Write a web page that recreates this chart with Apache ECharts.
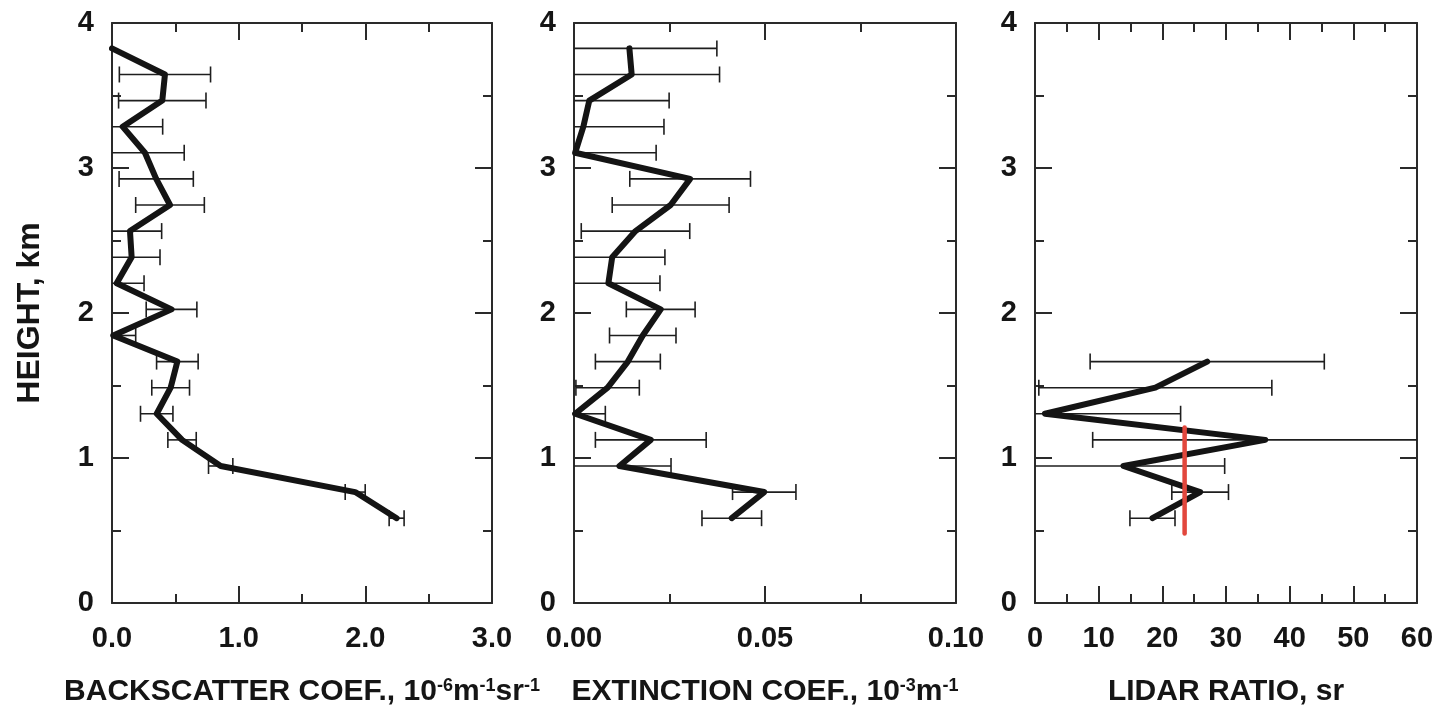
<!DOCTYPE html>
<html>
<head>
<meta charset="utf-8">
<script src="https://cdn.jsdelivr.net/npm/echarts@6/dist/echarts.min.js"></script>
<style>
html,body{margin:0;padding:0;background:#fff;}
#chart{width:1438px;height:714px;}
</style>
</head>
<body>
<div id="chart"></div>
<script>
// ---- Data (heights in km, top to bottom) ----
var heights = [3.825, 3.645, 3.465, 3.285, 3.105, 2.925, 2.745, 2.565, 2.385, 2.205,
               2.025, 1.845, 1.665, 1.485, 1.305, 1.125, 0.945, 0.765, 0.585];

// Backscatter coefficient, 10^-6 m^-1 sr^-1
var backscatter = [0, 0.418, 0.397, 0.084, 0.26, 0.349, 0.458, 0.142, 0.155, 0.037,
                   0.47, 0.01, 0.516, 0.463, 0.353, 0.553, 0.858, 1.92, 2.247];
var backscatterErr = [null, 0.36, 0.345, 0.316, 0.31, 0.293, 0.271, 0.25, 0.224, 0.216,
                      0.2, 0.177, 0.164, 0.149, 0.128, 0.112, 0.096, 0.079, 0.059];

// Extinction coefficient, 10^-3 m^-1
var extinction = [0.0145, 0.0151, 0.004, 0.00245, 0.0003, 0.0304, 0.0253, 0.0161, 0.010, 0.009,
                  0.0227, 0.018, 0.0141, 0.0088, 0.0003, 0.0201, 0.0119, 0.0498, 0.0413];
var extinctionErr = [0.0229, 0.023, 0.0209, 0.0211, 0.0212, 0.0158, 0.0153, 0.0142, 0.0138, 0.0135,
                     0.009, 0.0087, 0.0085, 0.0083, 0.0079, 0.0145, 0.0135, 0.0083, 0.0078];

// Lidar ratio, sr
var lidarHeights = [1.665, 1.485, 1.305, 1.125, 0.945, 0.765, 0.585];
var lidarRatio = [27.05, 18.9, 1.57, 36.16, 13.89, 25.94, 18.45];
var lidarRatioErr = [18.39, 18.3, 21.3, 27.1, 15.9, 4.45, 3.54];

// Mean lidar ratio (red line)
var meanRatio = [23.5, 23.5];
var meanRatioHeights = [0.48, 1.21];

// Axis ranges / ticks
var yRange = [0, 4];
var xRanges = [[0, 3, 1], [0, 0.1, 0.05], [0, 60, 10]];
var xLabelDigits = [1, 2, 0];

var FONT = '"Liberation Sans", Arial, Helvetica, sans-serif';
var INK = '#151515';

var chart = echarts.init(document.getElementById('chart'));

var grids = [
  {left: 112, top: 23, width: 380, height: 580},
  {left: 574, top: 23, width: 382, height: 580},
  {left: 1035, top: 23, width: 382, height: 580}
];

var names = [
  'BACKSCATTER COEF., 10{sup|-6}m{sup|-1}sr{sup|-1}',
  'EXTINCTION COEF., 10{sup|-3}m{sup|-1}',
  'LIDAR RATIO, sr'
];

var xAxes = [], yAxes = [];
for (var i = 0; i < 3; i++) {
  var r = xRanges[i];
  (function (digits) {
    xAxes.push({
      type: 'value', gridIndex: i, position: 'bottom',
      min: r[0], max: r[1], interval: r[2],
      axisLine: {show: true, onZero: false, lineStyle: {color: '#2a2a2a', width: 2}},
      axisTick: {show: true, inside: true, length: 17, lineStyle: {color: '#2a2a2a', width: 2}},
      minorTick: {show: true, splitNumber: 2, length: 9, lineStyle: {color: '#2a2a2a', width: 2}},
      splitLine: {show: false},
      axisLabel: {show: true, margin: 21, color: INK, fontFamily: FONT, fontWeight: 'bold', fontSize: 29,
        formatter: function (v) { return v.toFixed(digits); }},
      name: names[i], nameLocation: 'middle', nameGap: 74,
      nameTextStyle: {color: INK, fontFamily: FONT, fontWeight: 'bold', fontSize: 30,
        rich: {sup: {fontFamily: FONT, fontWeight: 'bold', fontSize: 18, color: INK, verticalAlign: 'top', padding: [0, 0, 12, 0]}}}
    });
  })(xLabelDigits[i]);
  xAxes.push({
    type: 'value', gridIndex: i, position: 'top',
    min: r[0], max: r[1], interval: r[2],
    axisLine: {show: true, onZero: false, lineStyle: {color: '#2a2a2a', width: 2}},
    axisTick: {show: true, inside: true, length: 17, lineStyle: {color: '#2a2a2a', width: 2}},
    minorTick: {show: true, splitNumber: 2, length: 9, lineStyle: {color: '#2a2a2a', width: 2}},
    splitLine: {show: false},
    axisLabel: {show: false}
  });
  yAxes.push({
    type: 'value', gridIndex: i, position: 'left',
    min: yRange[0], max: yRange[1], interval: 1,
    axisLine: {show: true, onZero: false, lineStyle: {color: '#2a2a2a', width: 2}},
    axisTick: {show: true, inside: true, length: 17, lineStyle: {color: '#2a2a2a', width: 2}},
    minorTick: {show: true, splitNumber: 2, length: 9, lineStyle: {color: '#2a2a2a', width: 2}},
    splitLine: {show: false},
    axisLabel: {show: true, margin: 18, color: INK, fontFamily: FONT, fontWeight: 'bold', fontSize: 29},
    name: i === 0 ? 'HEIGHT, km' : '', nameLocation: 'middle', nameGap: 66,
    nameTextStyle: {color: INK, fontFamily: FONT, fontWeight: 'bold', fontSize: 32}
  });
  yAxes.push({
    type: 'value', gridIndex: i, position: 'right',
    min: yRange[0], max: yRange[1], interval: 1,
    axisLine: {show: true, onZero: false, lineStyle: {color: '#2a2a2a', width: 2}},
    axisTick: {show: true, inside: true, length: 17, lineStyle: {color: '#2a2a2a', width: 2}},
    minorTick: {show: true, splitNumber: 2, length: 9, lineStyle: {color: '#2a2a2a', width: 2}},
    splitLine: {show: false},
    axisLabel: {show: false}
  });
}

function zip(vals, hs) {
  var out = [];
  for (var k = 0; k < vals.length; k++) out.push([vals[k], hs[k]]);
  return out;
}
function zipErr(vals, hs, errs) {
  var out = [];
  for (var k = 0; k < vals.length; k++) if (errs[k] != null) out.push([vals[k], hs[k], errs[k]]);
  return out;
}

function errorBarRenderer(xmin, xmax) {
  return function (params, api) {
    var v = api.value(0), h = api.value(1), e = api.value(2);
    var lo = Math.max(xmin, v - e), hi = Math.min(xmax, v + e);
    var p1 = api.coord([lo, h]), p2 = api.coord([hi, h]);
    var capH = 8;
    var style = {stroke: '#1e1e1e', lineWidth: 1.6};
    var children = [{type: 'line', shape: {x1: p1[0], y1: p1[1], x2: p2[0], y2: p2[1]}, style: style}];
    if (v - e > xmin) children.push({type: 'line', shape: {x1: p1[0], y1: p1[1] - capH, x2: p1[0], y2: p1[1] + capH}, style: style});
    if (v + e < xmax) children.push({type: 'line', shape: {x1: p2[0], y1: p2[1] - capH, x2: p2[0], y2: p2[1] + capH}, style: style});
    return {type: 'group', children: children};
  };
}

var lineStyle = {color: '#141414', width: 6, join: 'round', cap: 'round'};

var series = [
  {type: 'custom', xAxisIndex: 0, yAxisIndex: 0, renderItem: errorBarRenderer(0, 3),
   data: zipErr(backscatter, heights, backscatterErr), encode: {x: 0, y: 1}, z: 2, silent: true},
  {type: 'line', xAxisIndex: 0, yAxisIndex: 0, data: zip(backscatter, heights), showSymbol: false,
   symbol: 'none', lineStyle: lineStyle, z: 3, silent: true, animation: false},
  {type: 'custom', xAxisIndex: 2, yAxisIndex: 2, renderItem: errorBarRenderer(0, 0.1),
   data: zipErr(extinction, heights, extinctionErr), encode: {x: 0, y: 1}, z: 2, silent: true},
  {type: 'line', xAxisIndex: 2, yAxisIndex: 2, data: zip(extinction, heights), showSymbol: false,
   symbol: 'none', lineStyle: lineStyle, z: 3, silent: true, animation: false},
  {type: 'custom', xAxisIndex: 4, yAxisIndex: 4, renderItem: errorBarRenderer(0, 60),
   data: zipErr(lidarRatio, lidarHeights, lidarRatioErr), encode: {x: 0, y: 1}, z: 2, silent: true},
  {type: 'line', xAxisIndex: 4, yAxisIndex: 4, data: zip(lidarRatio, lidarHeights), showSymbol: false,
   symbol: 'none', lineStyle: lineStyle, z: 3, silent: true, animation: false},
  {type: 'line', xAxisIndex: 4, yAxisIndex: 4, data: zip(meanRatio, meanRatioHeights), showSymbol: false,
   symbol: 'none', lineStyle: {color: '#e2473d', width: 4.5, cap: 'round'}, z: 4, silent: true, animation: false}
];

chart.setOption({
  animation: false,
  backgroundColor: '#ffffff',
  grid: grids,
  xAxis: xAxes,
  yAxis: yAxes,
  series: series
});
</script>
</body>
</html>
